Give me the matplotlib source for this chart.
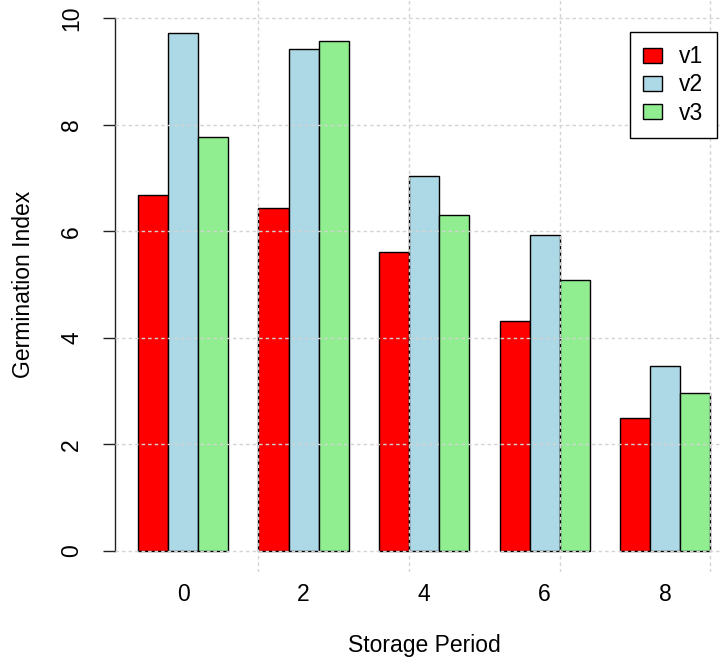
import matplotlib
matplotlib.use('Agg')
import matplotlib.pyplot as plt
import numpy as np

# ---- data ----
periods = ['0', '2', '4', '6', '8']
series_names = ['v1', 'v2', 'v3']
v1 = [6.68, 6.43, 5.61, 4.31, 2.49]
v2 = [9.72, 9.41, 7.03, 5.93, 3.48]
v3 = [7.76, 9.56, 6.30, 5.09, 2.97]
yticks = [0, 2, 4, 6, 8, 10]
grid_x = [5, 10, 15, 20]

colors = ['#FF0000', '#ADD8E6', '#90EE90']

plt.rcParams['font.family'] = ['Liberation Sans', 'DejaVu Sans']

W, H = 722, 664
fig = plt.figure(figsize=(W / 100, H / 100), dpi=100)
ax = fig.add_axes([115 / W, (H - 572.3) / H, 618.4 / W, 575.6 / H])
ax.patch.set_alpha(0)

series = [v1, v2, v3]
n_groups = len(periods)
n_series = len(series)
group_step = n_series + 1
centers = []
for g in range(n_groups):
    start = 1 + g * group_step
    centers.append(start + n_series / 2)
for j, vals in enumerate(series):
    lefts = [1 + g * group_step + j for g in range(n_groups)]
    ax.bar(lefts, vals, width=1, align='edge', color=colors[j],
           edgecolor='black', linewidth=1, label=series_names[j], zorder=2)

total = n_groups * group_step
xmin, xmax = 1, total
pad = 0.04 * (xmax - xmin)
ax.set_xlim(xmin - pad, xmax + pad)
ax.set_ylim(-0.4, 10.4)

# grid (drawn over bars, like R's grid())
for gx in grid_x:
    ax.axvline(gx, color='#D3D3D3', linewidth=1, dashes=(2.5, 2.2), zorder=3)
for gy in yticks:
    ax.axhline(gy, color='#D3D3D3', linewidth=1, dashes=(2.5, 2.2), zorder=3)

for s in ['top', 'right', 'bottom']:
    ax.spines[s].set_visible(False)
ax.spines['left'].set_bounds(0, 10)
ax.spines['left'].set_linewidth(1)
ax.spines['left'].set_color('#222222')

ax.set_yticks(yticks)
ax.set_yticklabels([str(t) for t in yticks], rotation=90, va='center')
ax.tick_params(axis='y', length=9, width=1, color='#222222', pad=14,
               labelsize=16.5)
ax.set_xticks(centers)
ax.set_xticklabels(periods)
ax.tick_params(axis='x', length=0, pad=8, labelsize=16.5)

ax.set_xlabel('Storage Period', fontsize=16.5, labelpad=20)
ax.set_ylabel('Germination Index', fontsize=16.5, labelpad=18)

leg = ax.legend(loc='upper right', bbox_to_anchor=(717 / W, 1 - 31.7 / H),
                bbox_transform=fig.transFigure, fontsize=16.5,
                fancybox=False, framealpha=1, edgecolor='black',
                handlelength=0.8, handleheight=0.62, handletextpad=0.75,
                labelspacing=0.22, borderpad=0.6, borderaxespad=0)
leg.get_frame().set_linewidth(1)
leg.set_zorder(5)

fig.savefig('out.png', dpi=100)
